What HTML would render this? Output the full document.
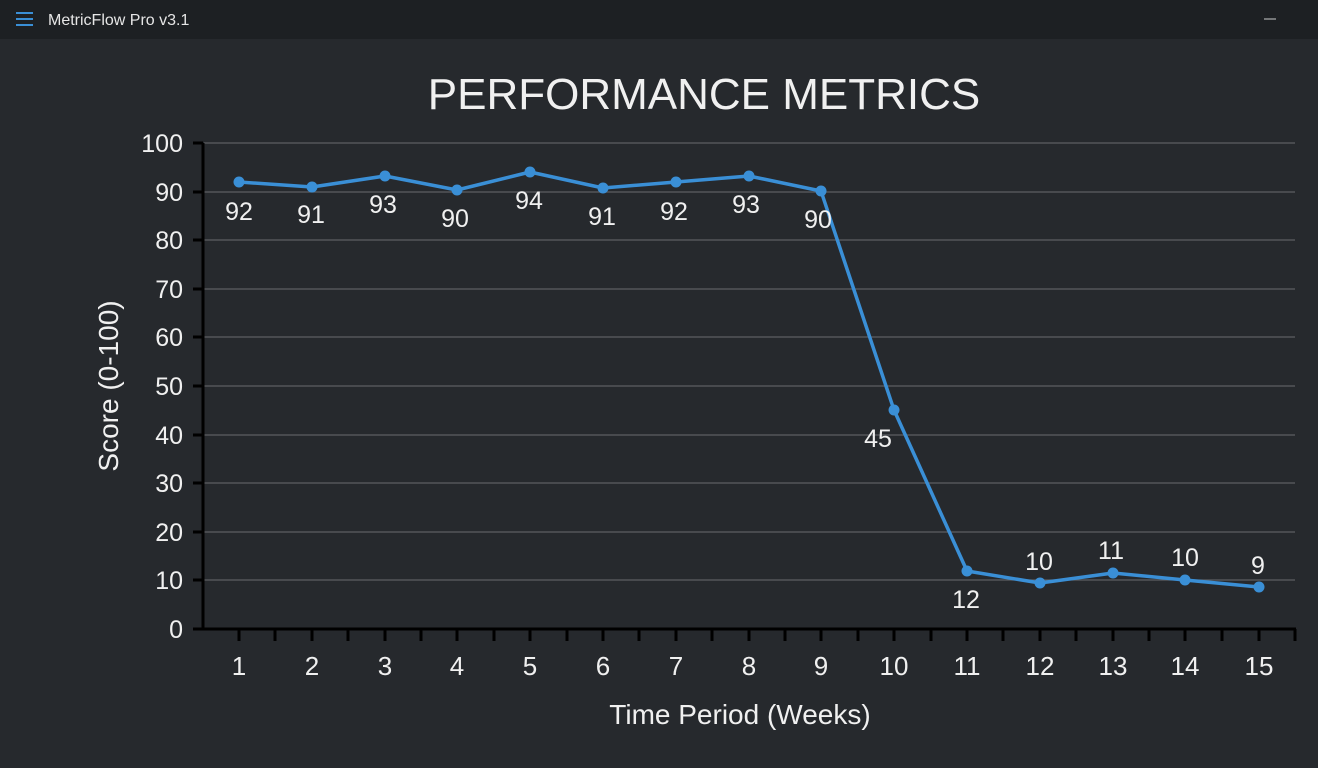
<!DOCTYPE html>
<html><head><style>
html,body{margin:0;padding:0;width:1318px;height:768px;overflow:hidden;background:#26292d;font-family:"Liberation Sans",sans-serif;}
</style></head><body>
<svg width="1318" height="768" xmlns="http://www.w3.org/2000/svg" font-family="Liberation Sans, sans-serif">
<rect width="1318" height="768" fill="#26292d"/>
<rect width="1318" height="39" fill="#1d2023"/>
<g stroke="#3a8fd6" stroke-width="2"><line x1="16" y1="13" x2="33" y2="13"/><line x1="16" y1="19" x2="33" y2="19"/><line x1="16" y1="25" x2="33" y2="25"/></g>
<text x="48" y="25" font-size="16" fill="#e6e6e6">MetricFlow Pro v3.1</text>
<line x1="1264" y1="19" x2="1276" y2="19" stroke="#ccc" stroke-width="1"/>
<text x="704" y="109" font-size="44" fill="#f0f0f0" text-anchor="middle">PERFORMANCE METRICS</text>
<g stroke="#5c5f63" stroke-width="1.2">
<line x1="204" y1="143" x2="1295" y2="143"/><line x1="204" y1="192" x2="1295" y2="192"/><line x1="204" y1="240" x2="1295" y2="240"/><line x1="204" y1="289" x2="1295" y2="289"/><line x1="204" y1="337" x2="1295" y2="337"/><line x1="204" y1="386" x2="1295" y2="386"/><line x1="204" y1="435" x2="1295" y2="435"/><line x1="204" y1="483" x2="1295" y2="483"/><line x1="204" y1="532" x2="1295" y2="532"/><line x1="204" y1="580" x2="1295" y2="580"/>
</g>
<g stroke="#000" stroke-width="3">
<line x1="203" y1="143" x2="203" y2="630"/><line x1="202" y1="629" x2="1296" y2="629"/>
</g>
<g stroke="#000" stroke-width="3">
<line x1="193" y1="143" x2="203" y2="143"/><line x1="193" y1="192" x2="203" y2="192"/><line x1="193" y1="240" x2="203" y2="240"/><line x1="193" y1="289" x2="203" y2="289"/><line x1="193" y1="337" x2="203" y2="337"/><line x1="193" y1="386" x2="203" y2="386"/><line x1="193" y1="435" x2="203" y2="435"/><line x1="193" y1="483" x2="203" y2="483"/><line x1="193" y1="532" x2="203" y2="532"/><line x1="193" y1="580" x2="203" y2="580"/><line x1="193" y1="629" x2="203" y2="629"/>
</g>
<g stroke="#000" stroke-width="3">
<line x1="239" y1="629" x2="239" y2="641"/><line x1="275" y1="629" x2="275" y2="641"/><line x1="312" y1="629" x2="312" y2="641"/><line x1="348" y1="629" x2="348" y2="641"/><line x1="385" y1="629" x2="385" y2="641"/><line x1="421" y1="629" x2="421" y2="641"/><line x1="457" y1="629" x2="457" y2="641"/><line x1="494" y1="629" x2="494" y2="641"/><line x1="530" y1="629" x2="530" y2="641"/><line x1="567" y1="629" x2="567" y2="641"/><line x1="603" y1="629" x2="603" y2="641"/><line x1="639" y1="629" x2="639" y2="641"/><line x1="676" y1="629" x2="676" y2="641"/><line x1="712" y1="629" x2="712" y2="641"/><line x1="749" y1="629" x2="749" y2="641"/><line x1="785" y1="629" x2="785" y2="641"/><line x1="821" y1="629" x2="821" y2="641"/><line x1="858" y1="629" x2="858" y2="641"/><line x1="894" y1="629" x2="894" y2="641"/><line x1="931" y1="629" x2="931" y2="641"/><line x1="967" y1="629" x2="967" y2="641"/><line x1="1003" y1="629" x2="1003" y2="641"/><line x1="1040" y1="629" x2="1040" y2="641"/><line x1="1076" y1="629" x2="1076" y2="641"/><line x1="1113" y1="629" x2="1113" y2="641"/><line x1="1149" y1="629" x2="1149" y2="641"/><line x1="1185" y1="629" x2="1185" y2="641"/><line x1="1222" y1="629" x2="1222" y2="641"/><line x1="1259" y1="629" x2="1259" y2="641"/><line x1="1295" y1="629" x2="1295" y2="641"/>
</g>
<g font-size="25" fill="#f0f0f0" text-anchor="end">
<text x="183" y="152">100</text><text x="183" y="201">90</text><text x="183" y="249">80</text><text x="183" y="298">70</text><text x="183" y="346">60</text><text x="183" y="395">50</text><text x="183" y="444">40</text><text x="183" y="492">30</text><text x="183" y="541">20</text><text x="183" y="589">10</text><text x="183" y="638">0</text>
</g>
<g font-size="26" fill="#f0f0f0" text-anchor="middle">
<text x="239" y="675">1</text><text x="312" y="675">2</text><text x="385" y="675">3</text><text x="457" y="675">4</text><text x="530" y="675">5</text><text x="603" y="675">6</text><text x="676" y="675">7</text><text x="749" y="675">8</text><text x="821" y="675">9</text><text x="894" y="675">10</text><text x="967" y="675">11</text><text x="1040" y="675">12</text><text x="1113" y="675">13</text><text x="1185" y="675">14</text><text x="1259" y="675">15</text>
</g>
<text x="740" y="724" font-size="28" fill="#f0f0f0" text-anchor="middle">Time Period (Weeks)</text>
<text transform="translate(118,386) rotate(-90)" font-size="28" fill="#f0f0f0" text-anchor="middle">Score (0-100)</text>
<polyline fill="none" stroke="#3a8fd6" stroke-width="3.5" stroke-linejoin="round" points="239,182 312,187 385,176 457,190 530,172 603,188 676,182 749,176 821,191 894,410 967,571 1040,583 1113,573 1185,580 1259,587"/>
<g fill="#3a8fd6">
<circle cx="239" cy="182" r="5.5"/><circle cx="312" cy="187" r="5.5"/><circle cx="385" cy="176" r="5.5"/><circle cx="457" cy="190" r="5.5"/><circle cx="530" cy="172" r="5.5"/><circle cx="603" cy="188" r="5.5"/><circle cx="676" cy="182" r="5.5"/><circle cx="749" cy="176" r="5.5"/><circle cx="821" cy="191" r="5.5"/><circle cx="894" cy="410" r="5.5"/><circle cx="967" cy="571" r="5.5"/><circle cx="1040" cy="583" r="5.5"/><circle cx="1113" cy="573" r="5.5"/><circle cx="1185" cy="580" r="5.5"/><circle cx="1259" cy="587" r="5.5"/>
</g>
<g font-size="25" fill="#f0f0f0" text-anchor="middle">
<text x="239" y="220">92</text><text x="311" y="223">91</text><text x="383" y="213">93</text><text x="455" y="227">90</text><text x="529" y="209">94</text><text x="602" y="225">91</text><text x="674" y="220">92</text><text x="746" y="213">93</text><text x="818" y="228">90</text><text x="878" y="447">45</text><text x="966" y="608">12</text><text x="1039" y="570">10</text><text x="1111" y="559">11</text><text x="1185" y="566">10</text><text x="1258" y="574">9</text>
</g>
</svg>
</body></html>
